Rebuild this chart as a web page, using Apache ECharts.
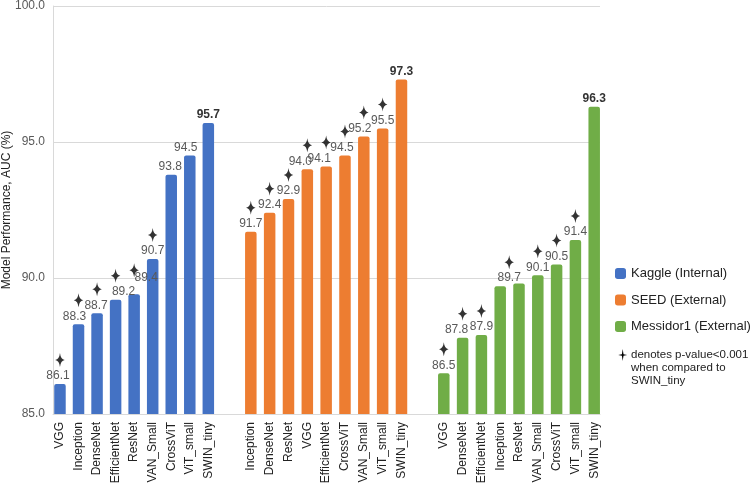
<!DOCTYPE html>
<html><head><meta charset="utf-8">
<script src="https://cdn.jsdelivr.net/npm/echarts@6/dist/echarts.min.js"></script>
<style>html,body{margin:0;padding:0;background:#fff}#c{width:756px;height:483px}</style>
</head><body><div id="c"></div>
<script>
// ---- data ----
const kaggleCats = ['VGG','Inception','DenseNet','EfficientNet','ResNet','VAN_Small','CrossViT','ViT_small','SWIN_tiny'];
const kaggleVals = [86.1,88.3,88.7,89.2,89.4,90.7,93.8,94.5,95.7];
const kaggleSig  = [1,1,1,1,1,1,0,0,0];

const seedCats = ['Inception','DenseNet','ResNet','VGG','EfficientNet','CrossViT','VAN_Small','ViT_small','SWIN_tiny'];
const seedVals = [91.7,92.4,92.9,94.0,94.1,94.5,95.2,95.5,97.3];
const seedSig  = [1,1,1,1,1,1,1,1,0];

const messCats = ['VGG','DenseNet','EfficientNet','Inception','ResNet','VAN_Small','CrossViT','ViT_small','SWIN_tiny'];
const messVals = [86.5,87.8,87.9,89.7,89.8,90.1,90.5,91.4,96.3];
const messSig  = [1,1,1,1,0,1,1,1,0];
const messLabelShown = [1,1,1,1,0,1,1,1,1];

const seriesNames = ['Kaggle (Internal)','SEED (External)','Messidor1 (External)'];
const yTicks = [85, 90, 95, 100];
const noteText = 'denotes p-value<0.001\nwhen compared to\nSWIN_tiny';

// ---- label placement tweaks (layout only) ----
const kaggleNudgeX = [-2,-4,-1,8,12,0,-1,-4,0];
const kaggleNudgeY = [0,0,0,0,-9,0,0,0,0];
const seedNudgeX   = [0,0,0,-7,-7,-3,-4,0,0];
const seedNudgeY   = [0,0,0,0,0,0,0,0,0];
const messNudgeX   = [0,-6,0,9,0,0,0,0,0];
const messNudgeY   = [0,0,0,0,0,0,0,0,0];
const messStarDX   = [0,0,0,9,0,0,0,0,0];

const colors = ['#4472C4','#ED7D31','#70AD47'];
const STAR = 'path://M5,0 Q5.7,6.3 10,7 Q5.7,7.7 5,14 Q4.3,7.7 0,7 Q4.3,6.3 5,0 Z';

const chart = echarts.init(document.getElementById('c'), null, {renderer:'canvas'});

const groups = [
  {cats:kaggleCats, vals:kaggleVals, sig:kaggleSig, nx:kaggleNudgeX, ny:kaggleNudgeY, show:null, sdx:null, left:50.7, width:166.9},
  {cats:seedCats, vals:seedVals, sig:seedSig, nx:seedNudgeX, ny:seedNudgeY, show:null, sdx:null, left:241.4, width:169.5},
  {cats:messCats, vals:messVals, sig:messSig, nx:messNudgeX, ny:messNudgeY, show:messLabelShown, sdx:messStarDX, left:434.4, width:169.2}
];

const grids = [{left:53, top:6, width:547, height:408, containLabel:false, outerBoundsMode:'none'}];
const xAxes = [{gridIndex:0, type:'value', min:0, max:1, position:'bottom',
  axisLine:{show:true, onZero:false, lineStyle:{color:'#d9d9d9', width:1}},
  axisTick:{show:false}, axisLabel:{show:false}, splitLine:{show:false}}];
const yAxes = [{gridIndex:0, type:'value', min:yTicks[0], max:yTicks[yTicks.length-1], interval:yTicks[1]-yTicks[0],
  axisLine:{show:true, lineStyle:{color:'#d9d9d9'}}, axisTick:{show:false},
  axisLabel:{formatter:v=>v.toFixed(1), color:'#595959', fontSize:12, margin:8},
  splitLine:{show:true, lineStyle:{color:'#d9d9d9', width:1}},
  name:'Model Performance, AUC (%)', nameLocation:'middle', nameGap:40, nameMoveOverlap:false,
  nameTextStyle:{color:'#222', fontSize:12}}];
const series = [];

groups.forEach((g, k) => {
  const gi = k + 1;
  grids.push({left:g.left, top:6, width:g.width, height:408, containLabel:false, outerBoundsMode:'none'});
  xAxes.push({gridIndex:gi, type:'category', data:g.cats, boundaryGap:true,
    axisLine:{show:false}, axisTick:{show:false},
    axisLabel:{rotate:90, interval:0, fontSize:12, color:'#222', margin:8}});
  yAxes.push({gridIndex:gi, type:'value', min:yTicks[0], max:yTicks[yTicks.length-1], show:false, splitLine:{show:false}});
  const last = g.vals.length - 1;
  series.push({
    name: seriesNames[k], type:'bar', xAxisIndex:gi, yAxisIndex:gi, barWidth:11.5, z:2,
    itemStyle:{color:colors[k], borderRadius:[2,2,0,0]},
    label:{show:true, position:'top', distance:2, fontSize:12, color:'#595959', formatter:p=>p.value.toFixed(1)},
    data: g.vals.map((v,i) => ({
      value:v,
      label:{
        show: g.show ? !!g.show[i] : true,
        offset:[g.nx[i], g.ny[i]],
        fontWeight: i===last ? 'bold' : 'normal',
        color: i===last ? '#333' : '#595959'
      }
    }))
  });
  series.push({
    name:'sig'+k, type:'scatter', xAxisIndex:gi, yAxisIndex:gi, z:5, silent:true,
    symbol:STAR, symbolSize:[9.5,14], itemStyle:{color:'#000'},
    data: g.vals.map((v,i) => g.sig[i] ? {value:v, symbolOffset:[g.sdx ? g.sdx[i] : 0, -24]} : '-')
  });
});

const sx = 622.7, sy = 355;
chart.setOption({
  animation:false,
  textStyle:{fontFamily:'"Liberation Sans", Arial, Helvetica, sans-serif'},
  grid:grids, xAxis:xAxes, yAxis:yAxes, series:series,
  legend:{data:seriesNames, orient:'vertical', left:615, top:267, itemWidth:11, itemHeight:11, itemGap:13.5,
    icon:'roundRect', padding:0, textStyle:{fontSize:13, color:'#222'}},
  graphic:[
    {type:'polygon', shape:{points:[[sx,sy-6],[sx+0.8,sy-0.8],[sx+4.5,sy],[sx+0.8,sy+0.8],[sx,sy+6],[sx-0.8,sy+0.8],[sx-4.5,sy],[sx-0.8,sy-0.8]]}, style:{fill:'#000'}},
    {type:'text', x:631, y:348.5, style:{text:noteText, fontSize:11.5, lineHeight:13, fill:'#222', fontFamily:'"Liberation Sans", Arial, sans-serif'}}
  ]
});
</script>
</body></html>
